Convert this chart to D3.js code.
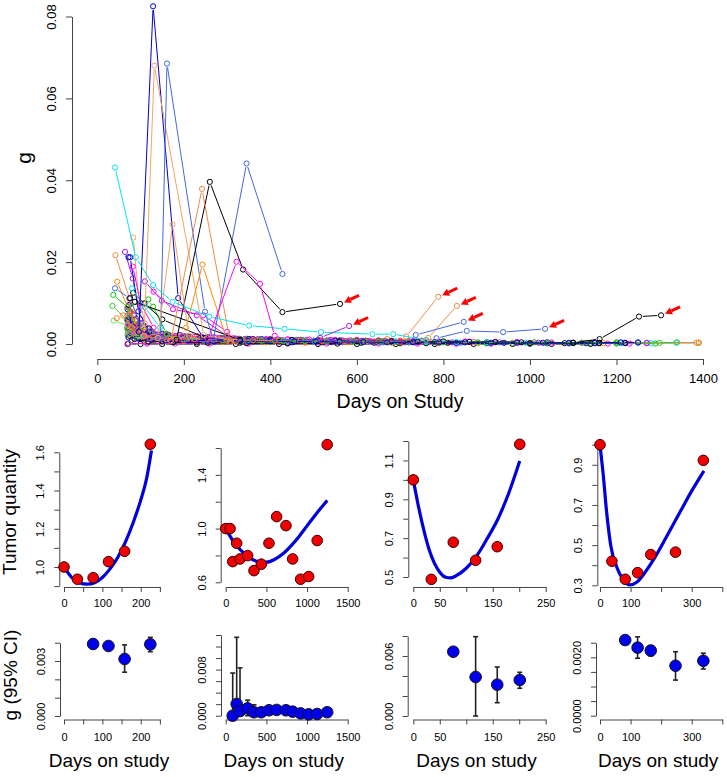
<!DOCTYPE html>
<html>
<head>
<meta charset="utf-8">
<script src="https://cdn.jsdelivr.net/npm/d3@7"></script>
<style>
  body { margin: 0; background: #fff; }
  svg { display: block; }
  text { font-family: "Liberation Sans", Arial, sans-serif; fill: #000; }
</style>
</head>
<body>
<div id="chart"></div>
<script>
// ---------- top panel data: g per patient over days on study ----------
const topXTicks = [0, 200, 400, 600, 800, 1000, 1200, 1400];
const topYTicks = [0, 0.02, 0.04, 0.06, 0.08];

// each series is a list of [day, g]; low band first, prominent series last
const topSeries = [
  [[70,0.0000],[100,0.0000],[150,0.0000],[230,0.0000],[320,0.0000],[420,0.0000],[510,0.0000],[600,0.0000],[690,0.0000],[780,0.0000],[870,0.0000],[960,0.0000],[1050,0.0000],[1140,0.0000]],
  [[72,0.0001],[115,0.0001],[180,0.0001],[260,0.0001],[350,0.0001],[440,0.0001],[530,0.0001],[650,0.0001],[740,0.0001],[830,0.0001],[910,0.0001],[1000,0.0001],[1090,0.0001],[1180,0.0001],[1230,0.0001]],
  [[70,0.0040],[80,0.0025],[100,0.0012],[150,0.0006],[230,0.0004],[330,0.0003],[430,0.0005],[520,0.0004],[610,0.0003],[700,0.0002],[810,0.0003],[900,0.0002],[1000,0.0001],[1080,0.0002],[1150,0.0002]],
  [[72,0.0060],[85,0.0030],[120,0.0015],[190,0.0009],[280,0.0006],[370,0.0005],[460,0.0007],[560,0.0006],[660,0.0004],[740,0.0005],[840,0.0003],[930,0.0004],[1040,0.0002],[1150,0.0003],[1250,0.0003],[1390,0.0003]],
  [[75,0.0030],[95,0.0018],[140,0.0012],[220,0.0010],[300,0.0008],[400,0.0006],[500,0.0007],[600,0.0005],[700,0.0004],[800,0.0005],[900,0.0003],[1000,0.0002],[1100,0.0002],[1200,0.0001],[1290,0.0001]],
  [[78,0.0045],[100,0.0020],[160,0.0010],[250,0.0008],[350,0.0007],[440,0.0006],[540,0.0008],[640,0.0006],[780,0.0004],[880,0.0004],[990,0.0003],[1090,0.0002],[1210,0.0002],[1280,0.0002],[1338,0.0003]],
  [[70,0.0070],[82,0.0040],[110,0.0020],[170,0.0014],[260,0.0012],[360,0.0010],[450,0.0009],[550,0.0010],[650,0.0008],[750,0.0007],[860,0.0006],[970,0.0005],[1050,0.0004],[1270,0.0002]],
  [[73,0.0035],[90,0.0020],[130,0.0010],[200,0.0007],[290,0.0005],[390,0.0004],[480,0.0003],[580,0.0004],[680,0.0003],[790,0.0002],[880,0.0002],[1170,0.0002],[1385,0.0003],[1390,0.0003]],
  [[74,0.0050],[88,0.0025],[115,0.0012],[180,0.0008],[270,0.0006],[360,0.0006],[450,0.0004],[540,0.0005],[640,0.0003],[720,0.0004],[830,0.0003],[940,0.0003],[1040,0.0002],[1130,0.0002],[1220,0.0002]],
  [[76,0.0030],[92,0.0015],[125,0.0009],[210,0.0007],[320,0.0006],[420,0.0005],[510,0.0004],[620,0.0005],[710,0.0004],[820,0.0004],[920,0.0004],[1020,0.0003],[1120,0.0003],[1270,0.0003]],
  [[71,0.0025],[84,0.0015],[110,0.0010],[190,0.0009],[280,0.0008],[380,0.0008],[470,0.0007],[570,0.0008],[690,0.0006],[770,0.0005],[870,0.0005]],
  [[80,0.0010],[130,0.0008],[200,0.0012],[300,0.0010],[390,0.0009],[500,0.0006],[590,0.0007],[690,0.0005],[800,0.0006],[900,0.0005],[1010,0.0004],[1140,0.0003],[1200,0.0004]],
  [[76,0.0080],[88,0.0050],[105,0.0030],[160,0.0018],[240,0.0013],[340,0.0011],[420,0.0010],[560,0.0009],[670,0.0012],[760,0.0009]],
  [[71,0.0055],[79,0.0035],[96,0.0025],[140,0.0020],[210,0.0016],[290,0.0014],[380,0.0012],[470,0.0010],[600,0.0008]],
  [[74,0.0020],[86,0.0012],[118,0.0006],[175,0.0004],[255,0.0003],[345,0.0002],[440,0.0002],[555,0.0001],[760,0.0002],[1000,0.0002],[1160,0.0002]],
  [[70,0.0035],[95,0.0025],[130,0.0020],[170,0.0018],[210,0.0016],[250,0.0015],[290,0.0014],[330,0.0012],[370,0.0011],[410,0.0010],[460,0.0010],[510,0.0009],[560,0.0008],[610,0.0007],[660,0.0007]],
  [[72,0.0045],[100,0.0030],[140,0.0024],[180,0.0020],[220,0.0018],[260,0.0016],[300,0.0014],[345,0.0013],[390,0.0012],[440,0.0011],[490,0.0011],[540,0.0010],[600,0.0010],[650,0.0009],[700,0.0008],[750,0.0008]],
  [[75,0.0065],[90,0.0040],[115,0.0030],[150,0.0025],[190,0.0022],[230,0.0019],[270,0.0016],[320,0.0013],[360,0.0012],[400,0.0011],[450,0.0009],[500,0.0008],[550,0.0008],[620,0.0007],[680,0.0006],[730,0.0006]],
  [[78,0.0028],[105,0.0022],[135,0.0019],[170,0.0017],[215,0.0015],[255,0.0013],[300,0.0011],[350,0.0010],[400,0.0009],[455,0.0008],[520,0.0007],[580,0.0007],[640,0.0006],[700,0.0005]],
  [[74,0.0038],[98,0.0028],[125,0.0022],[160,0.0019],[200,0.0017],[240,0.0015],[285,0.0013],[330,0.0011],[375,0.0010],[425,0.0009],[475,0.0009],[530,0.0008],[590,0.0007],[650,0.0006],[720,0.0006],[780,0.0005]],
  [[76,0.0030],[110,0.0024],[150,0.0021],[195,0.0019],[235,0.0017],[275,0.0015],[315,0.0014],[355,0.0012],[395,0.0011],[440,0.0011],[485,0.0010],[535,0.0009],[585,0.0009],[630,0.0008],[680,0.0008],[730,0.0007],[790,0.0006],[850,0.0006]],
  [[80,0.0055],[95,0.0035],[120,0.0026],[155,0.0022],[195,0.0018],[245,0.0015],[295,0.0013],[340,0.0012],[385,0.0010],[430,0.0009],[480,0.0008],[530,0.0008],[575,0.0007],[625,0.0007]],
  [[73,0.0026],[100,0.0020],[130,0.0017],[165,0.0015],[205,0.0014],[250,0.0012],[300,0.0011],[350,0.0010],[400,0.0009],[450,0.0008],[500,0.0008],[560,0.0007],[620,0.0006],[690,0.0006],[760,0.0005],[830,0.0005],[900,0.0004]],
  [[71,0.0060],[85,0.0042],[100,0.0032],[130,0.0026],[165,0.0022],[210,0.0019],[255,0.0016],[300,0.0014],[350,0.0012],[400,0.0011],[450,0.0010],[510,0.0009],[560,0.0008],[620,0.0008],[680,0.0007],[740,0.0006],[800,0.0006],[860,0.0005],[920,0.0005],[980,0.0004],[1040,0.0004],[1100,0.0003],[1160,0.0003],[1220,0.0003]],
  [[77,0.0042],[92,0.0030],[118,0.0024],[150,0.0020],[190,0.0017],[235,0.0015],[280,0.0013],[325,0.0012],[375,0.0010],[420,0.0009],[470,0.0009],[520,0.0008],[570,0.0007],[620,0.0007],[670,0.0006]],
  [[79,0.0050],[96,0.0036],[122,0.0028],[158,0.0023],[200,0.0020],[242,0.0017],[283,0.0015],[327,0.0013],[372,0.0012],[418,0.0011],[465,0.0010],[515,0.0009],[565,0.0009],[612,0.0008],[665,0.0007],[720,0.0007]],
  [[70,0.0022],[90,0.0017],[120,0.0014],[160,0.0012],[200,0.0011],[245,0.0010],[290,0.0009],[335,0.0008],[380,0.0008],[430,0.0007],[480,0.0007],[530,0.0006],[590,0.0006],[650,0.0005],[720,0.0005],[800,0.0004],[880,0.0004],[960,0.0003],[1040,0.0003],[1120,0.0003],[1200,0.0003],[1300,0.0003],[1340,0.0004]],
  [[72,0.0016],[95,0.0013],[125,0.0011],[165,0.0010],[210,0.0009],[255,0.0008],[300,0.0008],[350,0.0007],[400,0.0007],[455,0.0006],[505,0.0006],[560,0.0005],[615,0.0005],[670,0.0004],[730,0.0004],[790,0.0004],[850,0.0004],[910,0.0003],[970,0.0003],[1030,0.0003],[1090,0.0003],[1150,0.0003],[1210,0.0004],[1250,0.0004]],
  [[74,0.0070],[86,0.0048],[104,0.0036],[128,0.0028],[160,0.0024],[195,0.0021],[230,0.0019],[270,0.0017],[310,0.0015]],
  [[75,0.0024],[105,0.0018],[140,0.0015],[180,0.0013],[225,0.0012],[270,0.0011],[315,0.0010],[360,0.0009],[410,0.0008]],
  [[70,0.0085],[80,0.0060],[95,0.0045],[110,0.0035]],
  [[73,0.0095],[85,0.0070],[100,0.0050],[120,0.0038]],
  [[78,0.0078],[90,0.0055],[108,0.0040]],
  [[75,0.0075],[88,0.0058],[104,0.0044],[125,0.0032]],
  [[71,0.0092],[84,0.0072],[99,0.0052]],
  // early cluster
  [[42,0.0217],[75,0.0110],[105,0.0040],[160,0.0012]],
  [[46,0.0152],[70,0.0090],[95,0.0035]],
  [[64,0.0225],[82,0.0160],[100,0.0060],[150,0.0015]],
  [[72,0.0212],[76,0.0212],[95,0.0080],[120,0.0030]],
  [[41,0.0136],[74,0.0112],[100,0.0050],[140,0.0020]],
  [[37,0.0120],[70,0.0090],[118,0.0109],[129,0.0091],[160,0.0025]],
  [[35,0.0093],[68,0.0060],[90,0.0030]],
  [[38,0.0057],[70,0.0045],[95,0.0020]],
  [[45,0.0063],[60,0.0070],[80,0.0040]],
  [[83,0.0260],[95,0.0120],[110,0.0050]],
  [[82,0.0189],[100,0.0100],[130,0.0040]],
  [[110,0.0153],[149,0.0106],[230,0.0070],[300,0.0020]],
  [[76,0.0112],[87,0.0103],[330,0.0010]],
  [[83,0.0125],[109,0.0099],[150,0.0060],[250,0.0015]],
  [[80,0.0136],[110,0.0090],[145,0.0040]],
  [[130,0.0128],[175,0.0085],[245,0.0070],[300,0.0030]],
  [[70,0.0050],[90,0.0030],[120,0.0015],[200,0.0008]],
  // prominent series
  [[96,0.0030],[129,0.0825],[187,0.0112],[245,0.0015],[330,0.0007]],
  [[108,0.0020],[132,0.0680],[246,0.0022],[320,0.0006]],
  [[146,0.0012],[161,0.0685],[249,0.0079],[268,0.0010],[345,0.0441],[428,0.0171]],
  [[183,0.0010],[260,0.0396],[337,0.0182],[428,0.0078],[561,0.0098]],
  [[170,0.0008],[242,0.0379],[307,0.0005]],
  [[205,0.0040],[243,0.0194],[300,0.0008]],
  [[140,0.0015],[174,0.0292],[212,0.0020]],
  [[41,0.0431],[89,0.0212],[129,0.0144],[174,0.0103],[259,0.0067],[351,0.0045],[433,0.0037],[517,0.0029],[636,0.0024],[684,0.0024],[760,0.0010]],
  [[255,0.0010],[322,0.0201],[376,0.0147],[410,0.0020]],
  [[515,0.0015],[582,0.0044]],
  [[714,0.0018],[788,0.01155]],
  [[765,0.0015],[831,0.0093]],
  [[736,0.0022],[847,0.0054]],
  [[784,0.0014],[854,0.0032],[938,0.0029],[1035,0.0037]],
  [[1100,0.0003],[1161,0.0012],[1252,0.0067],[1303,0.0070]]
];
const topColors = [
  "#000000","#FF00FF","#000000","#4169E1","#00CD00","#00E5EE","#FF00FF","#FF8C00","#0000CD","#A020F0",
  "#FF3E96","#228B22","#FF7F24","#0000CD","#000000",
  "#00CD00","#FF1493","#00008B","#FF3030","#006400","#FF00FF","#4169E1","#00E5EE","#000000","#FF8C00",
  "#A020F0","#32CD32","#0000CD","#FF69B4","#E9803F",
  "#0000CD","#000000","#FF8C00","#00CD00","#FF00FF",
  "#F08A4B","#FF8C00","#A020F0","#0000CD","#4169E1","#00CD00","#32CD32","#66EE66","#FF7F24","#F4A460",
  "#FF00FF","#A020F0","#000000","#000000","#00E5EE","#FF00FF","#FF3E96",
  "#0000CD","#F4A460","#4169E1","#000000","#F08A4B","#FF8C00","#F4A460","#00E5EE","#FF00FF","#A020F0",
  "#F08A4B","#F08A4B","#4169E1","#4169E1","#000000"
];
// points flagged with red arrows
const arrowPoints = [[561,0.0098],[582,0.0044],[788,0.01155],[831,0.0093],[847,0.0054],[1035,0.0037],[1303,0.0070]];

// ---------- bottom panels: tumor quantity and g with 95% CI ----------
const tumorDays = [
  [0,35,76,116,158,225],
  [0,53,86,135,176,270,348,438,532,626,741,823,921,1020,1125,1248],
  [0,34,75.5,117.7,158.5,201],
  [0,39,82.5,123,166,247,338]
];
const tumorValues = [
  [1.0,0.936,0.944,1.028,1.082,1.642],
  [1.0,1.0,0.754,0.891,0.774,0.799,0.687,0.735,0.891,1.089,1.022,0.774,0.623,0.643,0.911,1.625],
  [1.0,0.488,0.679,0.586,0.656,1.183],
  [1.0,0.42,0.33,0.363,0.453,0.465,0.922]
];
const fitDays = [
  [0,20,40,60,80,100,120,140,160,180,200,215,228],
  [0,100,200,300,400,500,600,700,800,900,1000,1100,1248],
  [0,10,20,30,40,50,60,70,80,100,120,140,160,180,201],
  [0,10,22,35,55,75,98,120,150,180,217,260,300,340]
];
const fitValues = [
  [1.0,0.945,0.918,0.91,0.918,0.945,0.99,1.05,1.13,1.23,1.35,1.46,1.61],
  [1.0,0.9,0.83,0.78,0.755,0.75,0.77,0.81,0.87,0.94,1.02,1.1,1.21],
  [1.0,0.86,0.74,0.64,0.57,0.525,0.5,0.495,0.505,0.545,0.61,0.7,0.8,0.93,1.097],
  [1.0,0.86,0.66,0.5,0.39,0.33,0.302,0.315,0.37,0.44,0.54,0.66,0.77,0.87]
];
const gDays = [
  [76,116,158,225],
  [86,135,176,270,348,438,532,626,741,823,921,1020,1125,1248],
  [75.5,117.7,158.5,201],
  [82.5,123,166,247,338]
];
const gValues = [
  [0.00393,0.00382,0.00311,0.00391],
  [0.0000,0.00203,0.00081,0.00128,0.0006,0.0006,0.00094,0.001,0.00094,0.0007,0.0004,0.00024,0.0003,0.0006],
  [0.00643,0.0039,0.00313,0.0036],
  [0.00259,0.00233,0.00223,0.00171,0.00188]
];
const gLower = [
  [null,null,0.00239,0.00351],
  [0,0,0,0,0.0001,null,null,null,null,null,null,null,null,null],
  [null,0.0,0.00133,0.00277],
  [null,0.00197,0.00205,0.00122,0.0016]
];
const gUpper = [
  [null,null,0.00388,0.00429],
  [0.0074,0.0136,0.0083,0.0027,0.0019,null,null,null,null,null,null,null,null,null],
  [null,0.00793,0.0049,0.00437],
  [null,0.0027,0.0024,0.00219,0.00214]
];
const xTicks = [[0,50,100,150,200,250],[0,500,1000,1500],[0,50,100,150,200,250],[0,100,200,300,400]];
const xLabels = [[0,100,200],[0,500,1000,1500],[0,50,150,250],[0,100,300]];
const tumorYTicks = [[0.9,1.0,1.1,1.2,1.3,1.4,1.5,1.6],[0.6,0.8,1.0,1.2,1.4,1.6],[0.5,0.6,0.7,0.8,0.9,1.0,1.1,1.2],[0.3,0.4,0.5,0.6,0.7,0.8,0.9,1.0]];
const tumorYLabels = [[1.0,1.2,1.4,1.6],[0.6,1.0,1.4],[0.5,0.7,0.9,1.1],[0.3,0.5,0.7,0.9]];
const gYTicks = [[0,0.001,0.002,0.003,0.004],[0,0.002,0.004,0.006,0.008,0.010,0.012,0.014],[0,0.002,0.004,0.006,0.008],[0,0.0005,0.001,0.0015,0.002,0.0025]];
const gYLabels = [[0,0.003],[0,0.008],[0,0.006],[0,0.002]];
const gDigits = [3,3,3,4];

// ---------- layout (pixels) ----------
const W = 727, H = 777;
const axisColor = "#444";
const panels = [
  { xr:[64,159.9],    tAx:59.3,  tyr:[586.1,452.3], gAx:60,    gyr:[716,642.7] },
  { xr:[225.7,347.7], tAx:220.7, tyr:[582.3,448],   gAx:221,   gyr:[715.7,635] },
  { xr:[413.3,545.7], tAx:408.3, tyr:[577,441],     gAx:407.7, gyr:[716,636] },
  { xr:[600,722.3],   tAx:597.3, tyr:[585.3,444.7], gAx:596,   gyr:[715.7,642.7] }
];
const tumorAxisY = 587, gAxisY = 719.5;

const svg = d3.select("#chart").append("svg").attr("width", W).attr("height", H);

// R-like axis helpers built on d3 axes
function styleAxis(g, fontSize) {
  g.attr("color", axisColor).attr("font-size", fontSize).attr("font-family", null);
  g.selectAll(".domain").attr("stroke-width", 1);
  g.selectAll(".tick line").attr("stroke-width", 1);
  g.selectAll(".tick text").attr("fill", "#000");
}
function bottomAxis(scale, ticks, labels, y, tickLen, pad, fontSize, fmt) {
  const g = svg.append("g").attr("transform", `translate(0,${y})`)
    .call(d3.axisBottom(scale).tickValues(ticks).tickSize(tickLen).tickSizeOuter(0).tickPadding(pad)
      .tickFormat(v => labels.some(l => Math.abs(l - v) < 1e-9) ? fmt(v) : ""));
  styleAxis(g, fontSize);
}
function leftAxis(scale, ticks, labels, x, tickLen, off, fontSize, fmt) {
  const g = svg.append("g").attr("transform", `translate(${x},0)`)
    .call(d3.axisLeft(scale).tickValues(ticks).tickSize(tickLen).tickSizeOuter(0)
      .tickFormat(v => labels.some(l => Math.abs(l - v) < 1e-9) ? fmt(v) : ""));
  styleAxis(g, fontSize);
  g.selectAll(".tick text")
    .attr("x", 0).attr("y", -off).attr("dy", 0)
    .attr("text-anchor", "middle")
    .attr("transform", "rotate(-90)");
}
function rotLabel(x, y, txt, size) {
  svg.append("text").attr("transform", `translate(${x},${y}) rotate(-90)`)
    .attr("text-anchor", "middle").attr("font-size", size).text(txt);
}

// ---------- top panel ----------
const x = d3.scaleLinear().domain([0, 1400]).range([97.3, 703]);
const y = d3.scaleLinear().domain([0, 0.08]).range([344, 16.5]);

bottomAxis(x, topXTicks, topXTicks, 359, 6, 9, 13, d3.format("d"));
leftAxis(y, topYTicks, topYTicks, 72, 6, 16, 13, d3.format(".2f"));

svg.append("text").attr("x", 400).attr("y", 408).attr("text-anchor", "middle")
  .attr("font-size", 19.5).text("Days on Study");
svg.append("text").attr("transform", "translate(31,158) rotate(-90)")
  .attr("text-anchor", "middle").attr("font-size", 21).text("g");

const gap = 3.8;
const seriesG = svg.append("g");
topSeries.forEach((pts, i) => {
  const col = topColors[i % topColors.length];
  const p = pts.map(d => [x(d[0]), y(d[1])]);
  const segs = d3.pairs(p).map(([a, b]) => {
    const dx = b[0] - a[0], dy = b[1] - a[1], len = Math.hypot(dx, dy);
    if (len <= 2 * gap) return null;
    const ux = dx / len, uy = dy / len;
    return [a[0] + ux * gap, a[1] + uy * gap, b[0] - ux * gap, b[1] - uy * gap];
  }).filter(s => s);
  const sg = seriesG.append("g");
  sg.selectAll("line").data(segs).join("line")
    .attr("x1", s => s[0]).attr("y1", s => s[1]).attr("x2", s => s[2]).attr("y2", s => s[3])
    .attr("stroke", col).attr("stroke-width", 1);
  sg.selectAll("circle").data(pts).join("circle")
    .attr("cx", d => x(d[0])).attr("cy", d => y(d[1])).attr("r", 2.6)
    .attr("fill", "none").attr("stroke", col).attr("stroke-width", 1);
});

// red arrows
const arrowG = svg.append("g");
arrowPoints.forEach(d => {
  const cx = x(d[0]), cy = y(d[1]);
  const hx = cx + 4, hy = cy - 1.5, tx = cx + 19, ty = cy - 8.5;
  const ang = Math.atan2(hy - ty, hx - tx);
  const hl = 7, hw = 3.8;
  const bx = hx - Math.cos(ang) * hl, by = hy - Math.sin(ang) * hl;
  arrowG.append("line").attr("x1", tx).attr("y1", ty).attr("x2", bx).attr("y2", by)
    .attr("stroke", "#FF0000").attr("stroke-width", 3);
  arrowG.append("path")
    .attr("d", `M${hx},${hy}L${bx - Math.sin(ang) * hw},${by + Math.cos(ang) * hw}L${bx + Math.sin(ang) * hw},${by - Math.cos(ang) * hw}Z`)
    .attr("fill", "#FF0000");
});

// ---------- bottom panels ----------
panels.forEach((pn, i) => {
  const px = d3.scaleLinear().domain([xTicks[i][0], xTicks[i][xTicks[i].length - 1]]).range(pn.xr);
  const ty = d3.scaleLinear().domain([tumorYTicks[i][0], tumorYTicks[i][tumorYTicks[i].length - 1]]).range(pn.tyr);
  const gy = d3.scaleLinear().domain([gYTicks[i][0], gYTicks[i][gYTicks[i].length - 1]]).range(pn.gyr);

  // tumor quantity
  bottomAxis(px, xTicks[i], xLabels[i], tumorAxisY, 5, 7, 11, d3.format("d"));
  leftAxis(ty, tumorYTicks[i], tumorYLabels[i], pn.tAx, 5, 15, 11, d3.format(".1f"));

  const fit = fitDays[i].map((d, k) => [d, fitValues[i][k]]);
  svg.append("path").datum(fit)
    .attr("d", d3.line().x(d => px(d[0])).y(d => ty(d[1])).curve(d3.curveMonotoneX))
    .attr("fill", "none").attr("stroke", "#0000DD").attr("stroke-width", 3.2);

  svg.append("g").selectAll("circle").data(tumorDays[i].map((d, k) => [d, tumorValues[i][k]])).join("circle")
    .attr("cx", d => px(d[0])).attr("cy", d => ty(d[1])).attr("r", 5.3)
    .attr("fill", "#F00000").attr("stroke", "#3a0000").attr("stroke-width", 1);

  // g with CI
  bottomAxis(px, xTicks[i], xLabels[i], gAxisY, 5, 8.5, 11, d3.format("d"));
  leftAxis(gy, gYTicks[i], gYLabels[i], pn.gAx, 5, 15, 11, d3.format("." + gDigits[i] + "f"));

  const gpts = gDays[i].map((d, k) => ({ d, v: gValues[i][k], lo: gLower[i][k], hi: gUpper[i][k] }));
  const bars = gpts.filter(p => p.lo !== null && p.hi !== null);
  const bg = svg.append("g").attr("stroke", "#222").attr("stroke-width", 1.6);
  bg.selectAll("line.v").data(bars).join("line").attr("class", "v")
    .attr("x1", p => px(p.d)).attr("x2", p => px(p.d)).attr("y1", p => gy(p.lo)).attr("y2", p => gy(p.hi));
  bg.selectAll("line.t").data(bars).join("line").attr("class", "t")
    .attr("x1", p => px(p.d) - 2.5).attr("x2", p => px(p.d) + 2.5).attr("y1", p => gy(p.hi)).attr("y2", p => gy(p.hi));
  bg.selectAll("line.b").data(bars).join("line").attr("class", "b")
    .attr("x1", p => px(p.d) - 2.5).attr("x2", p => px(p.d) + 2.5).attr("y1", p => gy(p.lo)).attr("y2", p => gy(p.lo));

  svg.append("g").selectAll("circle").data(gpts).join("circle")
    .attr("cx", p => px(p.d)).attr("cy", p => gy(p.v)).attr("r", 5.8)
    .attr("fill", "#0000EE").attr("stroke", "#111").attr("stroke-width", 1);

  svg.append("text").attr("x", (pn.xr[0] + pn.xr[1]) / 2 - 3).attr("y", 767)
    .attr("text-anchor", "middle").attr("font-size", 19).text("Days on study");
});

rotLabel(16, 512, "Tumor quantity", 19);
rotLabel(17, 675, "g (95% CI)", 19);
</script>
</body>
</html>
